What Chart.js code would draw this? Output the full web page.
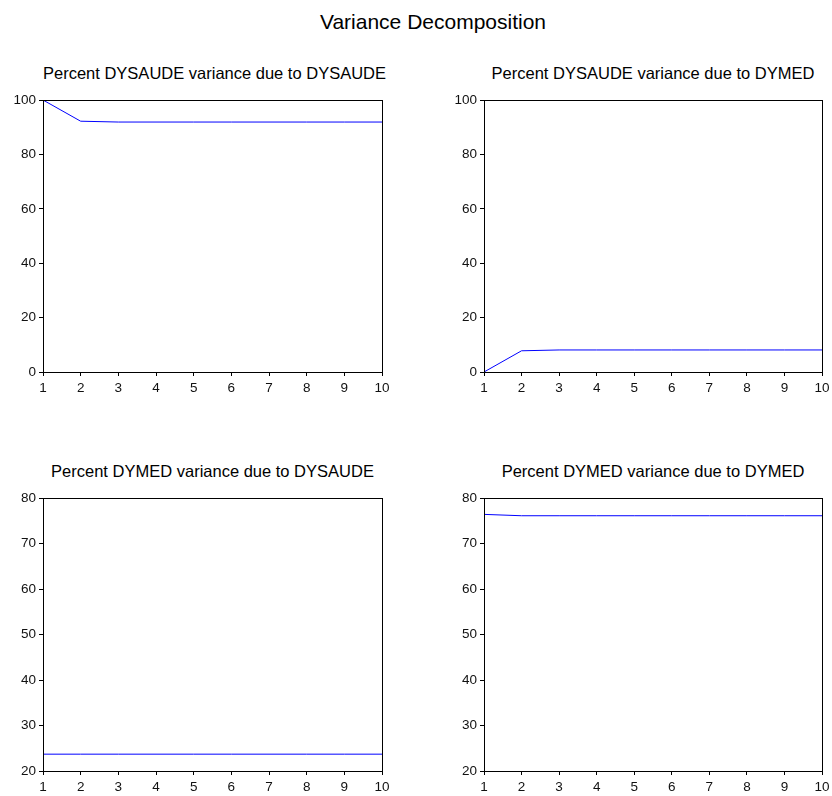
<!DOCTYPE html>
<html>
<head>
<meta charset="utf-8">
<script src="https://cdn.jsdelivr.net/npm/chart.js@4"></script>
<style>
  body { margin: 0; background: #fff; width: 832px; height: 796px; position: relative; font-family: "Liberation Sans", Arial, sans-serif; }
  #title { position: absolute; left: 0; width: 866px; top: 10px; text-align: center; font-size: 21px; color: #000; }
  .sub { position: absolute; text-align: center; font-size: 16.5px; line-height: 20px; color: #000; white-space: nowrap; }
  .box { position: absolute; width: 400px; }
</style>
</head>
<body>
<div id="title">Variance Decomposition</div>
<div class="sub" style="left:43px;width:339px;top:63px">Percent DYSAUDE variance due to DYSAUDE</div>
<div class="sub" style="left:484px;width:338px;top:63px">Percent DYSAUDE variance due to DYMED</div>
<div class="sub" style="left:43px;width:339px;top:461px">Percent DYMED variance due to DYSAUDE</div>
<div class="sub" style="left:484px;width:338px;top:461px">Percent DYMED variance due to DYMED</div>
<div class="box" style="left:3px;top:55px;height:345px"><canvas id="c1"></canvas></div>
<div class="box" style="left:444px;top:55px;height:345px"><canvas id="c2"></canvas></div>
<div class="box" style="left:3px;top:453px;height:346px"><canvas id="c3"></canvas></div>
<div class="box" style="left:444px;top:453px;height:346px"><canvas id="c4"></canvas></div>
<script>
(function () {
    "use strict";

    const periods = [1, 2, 3, 4, 5, 6, 7, 8, 9, 10];
    const saudeOnSaude = [100, 92.2, 91.9, 91.9, 91.9, 91.9, 91.9, 91.9, 91.9, 91.9];
    const saudeOnMed = [0, 7.8, 8.1, 8.1, 8.1, 8.1, 8.1, 8.1, 8.1, 8.1];
    const medOnSaude = [23.7, 23.7, 23.7, 23.7, 23.7, 23.7, 23.7, 23.7, 23.7, 23.7];
    const medOnMed = [76.4, 76.1, 76.1, 76.1, 76.1, 76.1, 76.1, 76.1, 76.1, 76.1];

    const BLUE = "#0000FF";
    const FONT = { family: "'Liberation Sans', Arial, sans-serif", size: 13.5 };

    const frame = {
        id: "frame",
        afterDraw(chart) {
            const a = chart.chartArea, ctx = chart.ctx;
            ctx.save();
            ctx.strokeStyle = "#000";
            ctx.lineWidth = 1;
            ctx.strokeRect(Math.round(a.left) + 0.5, Math.round(a.top) + 0.5,
                Math.round(a.right - a.left), Math.round(a.bottom - a.top));
            ctx.restore();
        }
    };

    function makeChart(id, values, yMin, yMax, yStep, padRight) {
        const ctx = document.getElementById(id).getContext("2d");
        return new Chart(ctx, {
            type: "line",
            data: {
                datasets: [{
                    data: periods.map((p, i) => ({ x: p, y: values[i] })),
                    borderColor: BLUE, borderWidth: 1, pointRadius: 0, tension: 0, fill: false
                }]
            },
            options: {
                responsive: true,
                maintainAspectRatio: false,
                animation: false,
                layout: { padding: { top: 45, right: padRight, bottom: 0, left: 0 } },
                plugins: {
                    legend: { display: false },
                    tooltip: { enabled: false },
                    title: { display: false }
                },
                scales: {
                    x: {
                        type: "linear", min: 1, max: 10,
                        ticks: { stepSize: 1, color: "#111", font: FONT, padding: 4, maxRotation: 0 },
                        grid: { drawOnChartArea: false, tickLength: 4, color: "#000" },
                        border: { color: "#000" },
                        afterFit: s => { s.height = 28; }
                    },
                    y: {
                        min: yMin, max: yMax,
                        ticks: { stepSize: yStep, color: "#111", font: FONT, padding: 3 },
                        grid: { drawOnChartArea: false, tickLength: 4, color: "#000" },
                        border: { color: "#000" },
                        afterFit: s => { s.width = 40; }
                    }
                }
            },
            plugins: [frame]
        });
    }

    makeChart("c1", saudeOnSaude, 0, 100, 20, 21);
    makeChart("c2", saudeOnMed, 0, 100, 20, 22);
    makeChart("c3", medOnSaude, 20, 80, 10, 21);
    makeChart("c4", medOnMed, 20, 80, 10, 22);
})();
</script>
</body>
</html>
